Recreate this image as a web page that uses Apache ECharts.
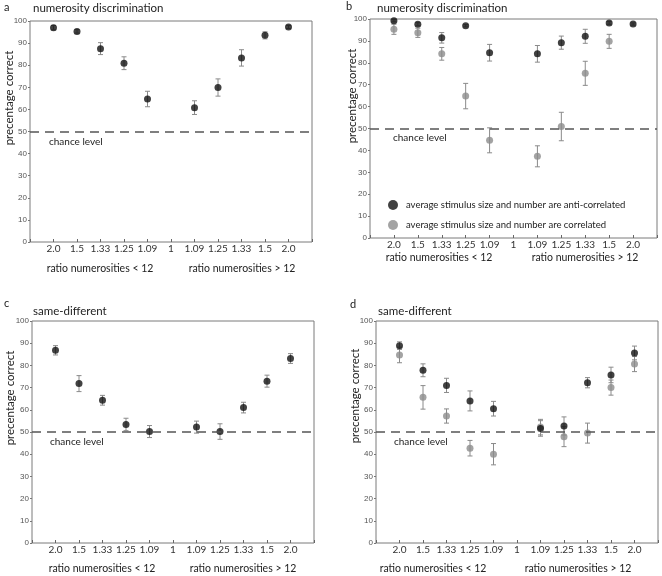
<!DOCTYPE html>
<html>
<head>
<meta charset="utf-8">
<script src="https://cdn.jsdelivr.net/npm/echarts@6/dist/echarts.min.js"></script>
<style>
  html, body { margin: 0; padding: 0; background: #fff; }
  #main { width: 662px; height: 576px; }
</style>
</head>
<body>
<div id="main"></div>
<script>
var myChart = echarts.init(document.getElementById('main'));

// tick labels along x (positions 0..12, data at 1..11)
var tickLabels = ['', '2.0', '1.5', '1.33', '1.25', '1.09', '1', '1.09', '1.25', '1.33', '1.5', '2.0', ''];

// panel a - numerosity discrimination
var aMean = [97.0, 95.3, 87.5, 80.9, 64.7, null, 60.8, 69.9, 83.3, 93.5, 97.3];
var aErr  = [1.0, 0.8, 2.7, 2.9, 3.5, null, 3.1, 3.9, 3.7, 1.6, 0.7];

// panel b - numerosity discrimination, two conditions
var bAnti    = [99.2, 97.6, 91.4, 96.9, 84.6, null, 84.1, 89.2, 92.1, 98.2, 97.7];
var bAntiErr = [0.5, 0.7, 2.4, 0.5, 3.8, null, 3.8, 3.0, 3.2, 0.6, 0.5];
var bCorr    = [95.3, 93.7, 84.1, 64.8, 44.6, null, 37.3, 50.9, 75.2, 89.8, null];
var bCorrErr = [2.3, 2.1, 2.9, 5.8, 5.7, null, 4.8, 6.5, 5.5, 3.2, null];

// panel c - same-different
var cMean = [86.8, 71.8, 64.3, 53.4, 50.2, null, 52.2, 50.2, 61.0, 72.9, 83.1];
var cErr  = [2.1, 3.6, 2.2, 2.8, 2.7, null, 2.7, 3.5, 2.4, 2.7, 2.2];

// panel d - same-different, two conditions
var dAnti    = [88.9, 77.8, 71.0, 64.0, 60.5, null, 51.6, 52.7, 72.2, 75.7, 85.6];
var dAntiErr = [1.7, 2.9, 3.2, 4.5, 3.3, null, 3.5, 4.1, 2.3, 3.5, 3.1];
var dCorr    = [84.7, 65.6, 57.2, 42.7, 40.0, null, 52.2, 47.9, 49.5, 70.0, 80.6];
var dCorrErr = [3.5, 5.3, 3.2, 3.5, 4.8, null, 3.5, 4.5, 4.5, 3.4, 3.4];

var chanceLevel = 50;
var nameAnti = 'average stimulus size and number are anti-correlated';
var nameCorr = 'average stimulus size and number are correlated';

var FONT = 'Lato, "Noto Sans", sans-serif';
var NUMFONT = '"Liberation Sans", Arial, sans-serif';
var BLACK = '#111';
var GREY = '#8c8c8c';

// panel layout
var panels = [
  {left: 30,  top: 21,  width: 282, height: 221},
  {left: 370, top: 19,  width: 287, height: 219},
  {left: 32,  top: 321, width: 282, height: 222},
  {left: 376, top: 321, width: 282, height: 222}
];

var grids = [], xAxes = [], yAxes = [], series = [];

panels.forEach(function (p, i) {
  grids.push({left: p.left, top: p.top, width: p.width, height: p.height,
    show: true, borderColor: '#7a7a7a', borderWidth: 1, backgroundColor: 'transparent'});
  xAxes.push({
    type: 'value', gridIndex: i, min: 0, max: 12, interval: 1,
    axisLine: {show: false},
    axisTick: {show: true, inside: true, length: 3, lineStyle: {color: '#666'}},
    splitLine: {show: false},
    axisLabel: {
      margin: 2, fontSize: 10, color: '#333', fontFamily: FONT,
      formatter: function (v) { return tickLabels[Math.round(v)] || ''; }
    }
  });
  yAxes.push({
    type: 'value', gridIndex: i, min: 0, max: 100, interval: 10,
    axisLine: {show: false},
    axisTick: {show: true, length: 2, lineStyle: {color: '#777'}},
    splitLine: {show: false},
    axisLabel: {margin: 3, fontSize: 8, color: '#555', fontFamily: NUMFONT}
  });
});

function pts(mean, err) {
  var out = [];
  for (var k = 0; k < mean.length; k++) {
    if (mean[k] == null) continue;
    out.push([k + 1, mean[k], err[k]]);
  }
  return out;
}

function errorBars(gi, mean, err) {
  return {
    type: 'custom', xAxisIndex: gi, yAxisIndex: gi, silent: true, z: 2,
    data: pts(mean, err),
    encode: {x: 0, y: 1},
    renderItem: function (params, api) {
      var x = api.value(0), y = api.value(1), e = api.value(2);
      var lo = api.coord([x, y - e]);
      var hi = api.coord([x, y + e]);
      var w = 2.5;
      var st = {stroke: '#8a8a8a', lineWidth: 1};
      return {
        type: 'group',
        children: [
          {type: 'line', shape: {x1: lo[0], y1: lo[1], x2: hi[0], y2: hi[1]}, style: st},
          {type: 'line', shape: {x1: lo[0] - w, y1: lo[1], x2: lo[0] + w, y2: lo[1]}, style: st},
          {type: 'line', shape: {x1: hi[0] - w, y1: hi[1], x2: hi[0] + w, y2: hi[1]}, style: st}
        ]
      };
    }
  };
}

function dots(gi, name, mean, err, color, z) {
  return {
    type: 'scatter', name: name, xAxisIndex: gi, yAxisIndex: gi, z: z,
    symbol: 'circle', symbolSize: 7,
    itemStyle: {color: color},
    data: pts(mean, err).map(function (d) { return [d[0], d[1]]; })
  };
}

function chanceLine(gi) {
  return {
    type: 'line', xAxisIndex: gi, yAxisIndex: gi, data: [], silent: true,
    markLine: {
      silent: true, symbol: 'none', label: {show: false},
      lineStyle: {type: [9, 6], color: '#555', width: 1.5},
      data: [{yAxis: chanceLevel}]
    }
  };
}

// panel a
series.push(chanceLine(0));
series.push(errorBars(0, aMean, aErr));
series.push(dots(0, 'a', aMean, aErr, BLACK, 4));
// panel b
series.push(chanceLine(1));
series.push(errorBars(1, bCorr, bCorrErr));
series.push(errorBars(1, bAnti, bAntiErr));
series.push(dots(1, nameCorr, bCorr, bCorrErr, GREY, 3));
series.push(dots(1, nameAnti, bAnti, bAntiErr, BLACK, 4));
// panel c
series.push(chanceLine(2));
series.push(errorBars(2, cMean, cErr));
series.push(dots(2, 'c', cMean, cErr, BLACK, 4));
// panel d
series.push(chanceLine(3));
series.push(errorBars(3, dCorr, dCorrErr));
series.push(errorBars(3, dAnti, dAntiErr));
series.push(dots(3, nameCorr, dCorr, dCorrErr, GREY, 3));
series.push(dots(3, nameAnti, dAnti, dAntiErr, BLACK, 4));

// text annotations
function txt(x, y, s, size, opt) {
  opt = opt || {};
  return {
    type: 'text', x: x, y: y, rotation: opt.rot || 0, silent: true,
    style: {
      text: s, fontSize: size, fontFamily: FONT, fill: opt.color || '#222',
      align: opt.align || 'left', verticalAlign: 'middle'
    }
  };
}

var ROT = Math.PI / 2;
var graphics = [
  txt(4, 7, 'a', 11), txt(33, 8, 'numerosity discrimination', 11.5),
  txt(346, 6, 'b', 11), txt(377, 8, 'numerosity discrimination', 11.5),
  txt(4, 303, 'c', 11), txt(33, 311, 'same-different', 11.5),
  txt(350, 304, 'd', 11), txt(378, 311, 'same-different', 11.5),

  txt(9, 98, 'precentage correct', 11.5, {align: 'center', rot: ROT}),
  txt(352, 96, 'precentage correct', 11.5, {align: 'center', rot: ROT}),
  txt(10, 398, 'precentage correct', 11.5, {align: 'center', rot: ROT}),
  txt(355, 396, 'precentage correct', 11.5, {align: 'center', rot: ROT}),

  txt(100, 269, 'ratio numerosities < 12', 10.5, {align: 'center'}),
  txt(242, 269, 'ratio numerosities > 12', 10.5, {align: 'center'}),
  txt(439, 258, 'ratio numerosities < 12', 10.5, {align: 'center'}),
  txt(585, 258, 'ratio numerosities > 12', 10.5, {align: 'center'}),
  txt(102, 569, 'ratio numerosities < 12', 10.5, {align: 'center'}),
  txt(243, 569, 'ratio numerosities > 12', 10.5, {align: 'center'}),
  txt(433, 569, 'ratio numerosities < 12', 10.5, {align: 'center'}),
  txt(578, 569, 'ratio numerosities > 12', 10.5, {align: 'center'}),

  txt(49, 142, 'chance level', 10),
  txt(393, 138, 'chance level', 10),
  txt(50, 442, 'chance level', 10),
  txt(394, 442, 'chance level', 10)
];

myChart.setOption({
    animation: false,
    grid: grids,
    xAxis: xAxes,
    yAxis: yAxes,
    legend: {
        data: [nameAnti, nameCorr],
        orient: 'vertical',
        left: 388, top: 200, padding: 0,
        itemWidth: 10, itemHeight: 10, itemGap: 10,
        icon: 'circle',
        selectedMode: false,
        textStyle: {fontSize: 9.5, color: '#222', fontFamily: FONT, padding: [0, 0, 0, 3]}
    },
    graphic: graphics,
    series: series
});
</script>
</body>
</html>
